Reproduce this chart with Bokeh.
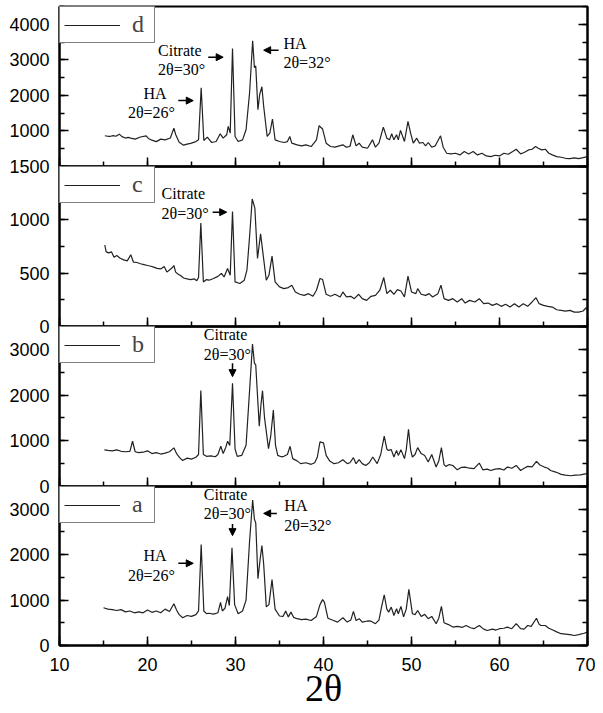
from bokeh.plotting import figure
from bokeh.layouts import column
from bokeh.models import (Range1d, SingleIntervalTicker, LinearAxis, Legend, LegendItem,
                          Label, Arrow, NormalHead)
from bokeh.embed import file_html
from bokeh.resources import INLINE

# ---------------- data (2theta, intensity) ----------------
PATTERN_A = [
    (15.0, 830), (15.5, 800), (16.0, 790), (16.5, 770), (17.0, 790), (17.5, 740), (18.0, 760),
    (18.5, 720), (19.0, 740), (19.5, 720), (20.0, 780), (20.5, 730), (21.0, 760), (21.5, 720),
    (22.0, 800), (22.5, 750), (23.0, 920), (23.3, 780), (23.6, 680), (24.0, 610), (24.5, 660),
    (25.0, 640), (25.5, 680), (25.8, 760), (26.1, 2220), (26.4, 760), (26.7, 700), (27.0, 710),
    (27.5, 690), (28.0, 720), (28.3, 950), (28.5, 760), (28.8, 820), (29.1, 1075), (29.3, 880),
    (29.6, 2150), (29.9, 900), (30.3, 700), (30.8, 760), (31.2, 1000), (31.6, 2300), (31.95, 3200),
    (32.15, 2780), (32.3, 2700), (32.55, 1470), (32.8, 1900), (33.0, 2200), (33.2, 1800),
    (33.5, 850), (33.8, 900), (34.15, 1450), (34.5, 800), (35.0, 650), (35.4, 640), (35.7, 757),
    (36.0, 630), (36.3, 735), (36.6, 620), (37.0, 590), (37.5, 570), (38.0, 580), (38.6, 550),
    (39.2, 640), (39.6, 900), (39.9, 1010), (40.1, 955), (40.5, 600), (41.0, 560), (41.6, 515),
    (42.2, 610), (42.7, 515), (43.1, 560), (43.4, 750), (43.7, 550), (44.05, 590), (44.4, 515),
    (45.0, 540), (45.4, 535), (45.9, 480), (46.3, 560), (46.6, 850), (46.9, 1117), (47.2, 800),
    (47.4, 735), (47.7, 845), (48.0, 660), (48.3, 810), (48.5, 700), (48.8, 860), (49.1, 630),
    (49.4, 800), (49.7, 1235), (50.1, 700), (50.4, 680), (50.7, 770), (51.1, 640), (51.5, 685),
    (51.9, 590), (52.3, 640), (52.8, 480), (53.1, 600), (53.4, 860), (53.7, 500), (54.2, 460),
    (54.7, 405), (55.2, 420), (55.8, 400), (56.2, 440), (56.7, 390), (57.1, 370), (57.7, 440),
    (58.2, 360), (58.6, 330), (59.2, 360), (59.6, 340), (60.0, 370), (60.5, 380), (60.9, 405),
    (61.4, 370), (61.9, 480), (62.4, 370), (62.8, 360), (63.2, 440), (63.6, 420), (64.2, 600),
    (64.5, 470), (64.7, 440), (65.2, 440), (65.6, 380), (66.0, 345), (66.5, 300), (67.0, 260),
    (67.5, 250), (68.0, 240), (68.5, 220), (69.0, 240), (69.6, 270), (70.0, 295),
]

PATTERN_B = [
    (15.1, 800), (15.5, 790), (16.0, 780), (16.5, 800), (17.0, 770), (17.5, 760), (18.0, 770),
    (18.3, 990), (18.6, 760), (19.0, 740), (19.5, 750), (20.0, 780), (20.5, 720), (21.0, 740),
    (21.5, 710), (22.0, 730), (22.5, 760), (23.0, 845), (23.3, 720), (23.7, 620), (24.0, 570),
    (24.5, 620), (25.0, 600), (25.5, 640), (25.8, 700), (26.06, 2100), (26.35, 700), (26.7, 660),
    (27.2, 670), (27.7, 650), (28.0, 700), (28.33, 880), (28.6, 720), (28.9, 860), (29.1, 990),
    (29.35, 900), (29.66, 2258), (29.95, 820), (30.2, 660), (30.7, 680), (31.2, 900),
    (31.6, 2100), (31.93, 3115), (32.15, 2700), (32.3, 2660), (32.7, 1320), (32.9, 1800),
    (33.07, 2096), (33.3, 1500), (33.75, 830), (34.0, 1100), (34.3, 1670), (34.55, 900),
    (34.8, 680), (35.2, 650), (35.5, 660), (35.9, 700), (36.2, 880), (36.5, 610), (37.0, 560),
    (37.4, 500), (38.0, 520), (38.6, 485), (39.0, 520), (39.3, 645), (39.6, 975), (40.0, 953),
    (40.3, 680), (40.7, 560), (41.2, 500), (41.7, 520), (42.2, 586), (42.7, 500), (43.0, 520),
    (43.4, 630), (43.7, 500), (44.05, 586), (44.4, 500), (44.8, 460), (45.2, 520), (45.6, 645),
    (46.1, 500), (46.5, 700), (46.9, 1100), (47.2, 820), (47.35, 790), (47.7, 806), (48.0, 645),
    (48.3, 790), (48.5, 680), (48.8, 806), (49.2, 610), (49.4, 800), (49.66, 1253), (49.9, 800),
    (50.1, 645), (50.4, 700), (50.7, 850), (51.1, 720), (51.5, 680), (51.9, 535), (52.3, 700),
    (52.8, 425), (53.1, 560), (53.4, 850), (53.7, 480), (53.9, 440), (54.3, 480), (54.7, 460),
    (55.2, 365), (55.7, 420), (56.1, 425), (56.6, 400), (57.1, 390), (57.7, 513), (58.1, 365),
    (58.6, 380), (59.0, 350), (59.5, 380), (60.0, 390), (60.5, 360), (60.9, 425), (61.4, 400),
    (61.9, 460), (62.4, 350), (62.8, 400), (63.2, 440), (63.7, 430), (64.2, 550), (64.6, 470),
    (65.1, 425), (65.5, 400), (65.8, 350), (66.3, 320), (66.6, 300), (67.0, 265), (67.5, 250),
    (68.1, 235), (68.6, 250), (69.2, 255), (69.6, 270), (70.0, 280),
]

PATTERN_C = [
    (15.15, 764), (15.3, 700), (15.6, 690), (15.9, 700), (16.2, 650), (16.5, 665), (16.9, 640),
    (17.3, 625), (17.7, 615), (18.1, 673), (18.4, 604), (18.8, 600), (19.2, 588), (19.6, 580),
    (20.0, 572), (20.4, 565), (20.7, 557), (21.1, 545), (21.5, 540), (21.9, 563), (22.2, 510),
    (22.5, 530), (22.8, 550), (23.0, 572), (23.2, 510), (23.5, 490), (23.75, 478), (24.1, 455),
    (24.5, 447), (24.9, 440), (25.3, 447), (25.6, 430), (25.8, 460), (26.06, 969), (26.35, 418),
    (26.7, 440), (27.0, 434), (27.5, 450), (28.0, 470), (28.4, 497), (28.7, 465), (29.1, 544),
    (29.4, 480), (29.66, 1079), (29.95, 418), (30.5, 403), (31.0, 434), (31.3, 528), (31.6, 843),
    (31.9, 1195), (32.2, 1110), (32.5, 638), (32.85, 868), (33.1, 700), (33.5, 434), (33.8, 480),
    (34.15, 660), (34.5, 418), (35.0, 371), (35.5, 355), (36.0, 365), (36.4, 387), (36.8, 324),
    (37.3, 302), (37.8, 292), (38.3, 308), (38.8, 283), (39.2, 340), (39.6, 450), (39.9, 440),
    (40.3, 302), (40.8, 283), (41.3, 302), (41.9, 277), (42.2, 324), (42.6, 277), (43.1, 283),
    (43.5, 261), (44.0, 302), (44.4, 261), (44.9, 245), (45.4, 283), (45.9, 292), (46.4, 340),
    (46.85, 459), (47.2, 308), (47.6, 340), (48.0, 302), (48.4, 346), (48.8, 333), (49.2, 277),
    (49.6, 472), (50.0, 324), (50.5, 308), (50.7, 355), (51.1, 302), (51.6, 292), (52.0, 308),
    (52.4, 277), (53.0, 308), (53.35, 387), (53.7, 261), (54.2, 245), (54.7, 261), (55.2, 230),
    (55.7, 261), (56.1, 220), (56.6, 245), (57.2, 230), (57.7, 261), (58.2, 214), (58.7, 220),
    (59.2, 198), (59.7, 214), (60.2, 189), (60.7, 208), (61.2, 182), (61.7, 214), (62.2, 182),
    (62.7, 214), (63.2, 189), (63.7, 230), (64.15, 270), (64.5, 214), (65.0, 198), (65.5, 189),
    (66.0, 182), (66.5, 157), (67.0, 151), (67.5, 145), (68.0, 151), (68.5, 135), (69.0, 135),
    (69.5, 145), (69.85, 176), (70.0, 150),
]

PATTERN_D = [
    (15.15, 864), (15.5, 850), (15.8, 850), (16.1, 870), (16.4, 850), (16.8, 910), (17.1, 840),
    (17.5, 800), (17.8, 820), (18.1, 800), (18.6, 770), (19.2, 830), (19.85, 860), (20.1, 790),
    (20.4, 750), (21.0, 700), (21.5, 770), (22.0, 750), (22.6, 800), (23.0, 1080), (23.2, 900),
    (23.6, 680), (24.1, 600), (24.5, 630), (24.9, 650), (25.5, 700), (25.8, 750), (26.1, 2215),
    (26.4, 730), (26.8, 826), (27.0, 760), (27.3, 675), (27.8, 703), (28.26, 920), (28.6, 797),
    (29.0, 892), (29.17, 1128), (29.4, 939), (29.66, 3318), (29.95, 845), (30.3, 703),
    (30.8, 750), (31.2, 1033), (31.6, 2072), (31.95, 3535), (32.15, 2780), (32.3, 2827),
    (32.55, 1600), (32.75, 2025), (33.0, 2242), (33.2, 1695), (33.6, 845), (33.9, 939),
    (34.2, 1336), (34.5, 750), (35.0, 703), (35.5, 675), (35.9, 700), (36.17, 845), (36.4, 656),
    (37.0, 609), (37.5, 581), (38.0, 609), (38.6, 562), (39.2, 750), (39.5, 1147), (39.9, 1053),
    (40.3, 656), (40.8, 562), (41.3, 543), (41.8, 581), (42.2, 609), (42.6, 543), (43.0, 562),
    (43.33, 892), (43.7, 581), (44.05, 656), (44.4, 543), (45.0, 514), (45.57, 750), (45.9, 543),
    (46.3, 656), (46.8, 1109), (47.2, 797), (47.5, 750), (47.75, 920), (48.0, 750), (48.3, 892),
    (48.5, 750), (48.75, 1015), (49.2, 703), (49.6, 1270), (49.9, 939), (50.2, 656), (50.6, 797),
    (50.9, 656), (51.3, 675), (51.6, 581), (51.9, 675), (52.3, 543), (52.7, 581), (53.3, 864),
    (53.6, 543), (54.0, 373), (54.5, 354), (55.0, 373), (55.5, 326), (56.0, 420), (56.5, 354),
    (57.0, 420), (57.5, 326), (58.0, 373), (58.5, 297), (59.0, 279), (59.5, 316), (60.0, 297),
    (60.5, 373), (61.0, 344), (61.5, 420), (61.9, 486), (62.4, 354), (62.8, 392), (63.3, 467),
    (63.7, 486), (64.1, 562), (64.4, 514), (64.8, 467), (65.2, 486), (65.6, 373), (66.0, 326),
    (66.5, 279), (67.0, 260), (67.5, 231), (68.0, 222), (68.5, 241), (69.0, 222), (69.5, 250),
    (70.0, 279),
]

PANEL_NAMES = ["d", "c", "b", "a"]
PANEL_YMAX = [4500, 1500, 3500, 3500]
PANEL_YSTEP = [1000, 500, 1000, 1000]
X_RANGE = (10, 70)
X_LABEL = "2θ"

# annotation texts: (text, x, y, align)
TEXTS = {
    "d": [("HA", 20.85, 2054, "center"), ("2θ=26°", 20.45, 1516, "center"),
          ("Citrate", 21.2, 3272, "left"), ("2θ=30°", 21.2, 2734, "left"),
          ("HA", 35.45, 3470, "left"), ("2θ=32°", 35.45, 2924, "left")],
    "c": [("Citrate", 21.6, 1251, "left"), ("2θ=30°", 21.6, 1063, "left")],
    "b": [("Citrate", 26.4, 3319, "left"), ("2θ=30°", 26.4, 2879, "left")],
    "a": [("Citrate", 26.4, 3319, "left"), ("2θ=30°", 26.4, 2895, "left"),
          ("HA", 20.85, 1978, "center"), ("2θ=26°", 20.45, 1539, "center"),
          ("HA", 35.55, 3077, "left"), ("2θ=32°", 35.55, 2638, "left")],
}
# arrows: (x_start, y_start, x_end, y_end)
ARROWS = {
    "d": [(23.5, 1853, 25.2, 1853), (26.9, 3074, 28.6, 3074), (34.9, 3272, 33.2, 3272)],
    "c": [(27.4, 1072, 29.0, 1072)],
    "b": [(29.66, 2697, 29.66, 2403)],
    "a": [(29.66, 2675, 29.66, 2418), (23.5, 1809, 25.2, 1809), (34.7, 2908, 33.2, 2908)],
}
PATTERNS = {"a": PATTERN_A, "b": PATTERN_B, "c": PATTERN_C, "d": PATTERN_D}

SANS = "Liberation Sans"
SERIF = "Liberation Serif"

x_range = Range1d(*X_RANGE)


def style_axis(ax, show_labels):
    ax.axis_line_width = 2
    ax.axis_line_color = "black"
    ax.major_tick_in = 9
    ax.major_tick_out = 0
    ax.minor_tick_in = 5
    ax.minor_tick_out = 0
    ax.major_tick_line_width = 1.5
    ax.minor_tick_line_width = 1.5
    ax.major_label_text_font = SANS
    if show_labels:
        ax.major_label_text_color = "black"
        ax.major_label_text_font_size = "18px"
        ax.major_label_standoff = 10
    else:
        ax.major_label_text_color = None
        ax.major_label_text_alpha = 0
        ax.major_label_text_font_size = "1px"
        ax.major_label_standoff = 0


figs = []
for i, name in enumerate(PANEL_NAMES):
    bottom = (i == len(PANEL_NAMES) - 1)
    pts = PATTERNS[name]
    xs = [p[0] for p in pts]
    ys = [p[1] for p in pts]
    p = figure(frame_width=528, frame_height=159 if bottom else 160,
               x_range=x_range, y_range=Range1d(0, PANEL_YMAX[i]),
               output_backend="svg", toolbar_location=None,
               x_axis_type=None, y_axis_type=None,
               min_border_left=59, min_border_right=8,
               min_border_top=12, min_border_bottom=0 if bottom else 12)
    p.background_fill_alpha = 0
    p.border_fill_alpha = 0
    p.outline_line_color = "black"
    p.outline_line_width = 2
    p.grid.visible = False

    yt = SingleIntervalTicker(interval=PANEL_YSTEP[i], num_minor_ticks=2)
    xt = SingleIntervalTicker(interval=10, num_minor_ticks=2)

    left = LinearAxis(ticker=yt)
    style_axis(left, True)
    if name == "d":
        left.major_label_overrides = {0: ""}
    p.add_layout(left, "left")

    right = LinearAxis(ticker=yt)
    style_axis(right, False)
    p.add_layout(right, "right")

    below = LinearAxis(ticker=xt)
    style_axis(below, bottom)
    if bottom:
        below.major_label_standoff = 12
        below.axis_label = X_LABEL
        below.axis_label_text_font = SERIF
        below.axis_label_text_font_style = "normal"
        below.axis_label_text_font_size = "38px"
        below.axis_label_text_color = "black"
        below.axis_label_standoff = -7
    p.add_layout(below, "below")

    r = p.line(xs, ys, line_color="#222222", line_width=1.2)

    leg = Legend(items=[LegendItem(label=name, renderers=[r])], location="top_left",
                 margin=0, padding=4, spacing=0, glyph_width=56, glyph_height=20,
                 label_standoff=12, label_width=18, label_height=20,
                 label_text_font=SERIF, label_text_font_size="24px",
                 border_line_color="black", border_line_width=1.5,
                 background_fill_color="white", background_fill_alpha=1)
    p.add_layout(leg)

    for (txt, tx, ty, al) in TEXTS[name]:
        p.add_layout(Label(x=tx, y=ty, text=txt, text_align=al, text_baseline="middle",
                           text_font=SERIF, text_font_size="16px", text_color="black"))
    for (x0, y0, x1, y1) in ARROWS[name]:
        p.add_layout(Arrow(end=NormalHead(size=7, fill_color="black", line_color="black"),
                           x_start=x0, y_start=y0, x_end=x1, y_end=y1,
                           line_color="black", line_width=1.5))

    if i == 0:
        p.margin = (-6, 0, 0, 0)
    else:
        p.margin = (-24, 0, 0, 0)
    figs.append(p)

layout = column(*figs, spacing=0)
open("out.html", "w").write(file_html(layout, INLINE))
